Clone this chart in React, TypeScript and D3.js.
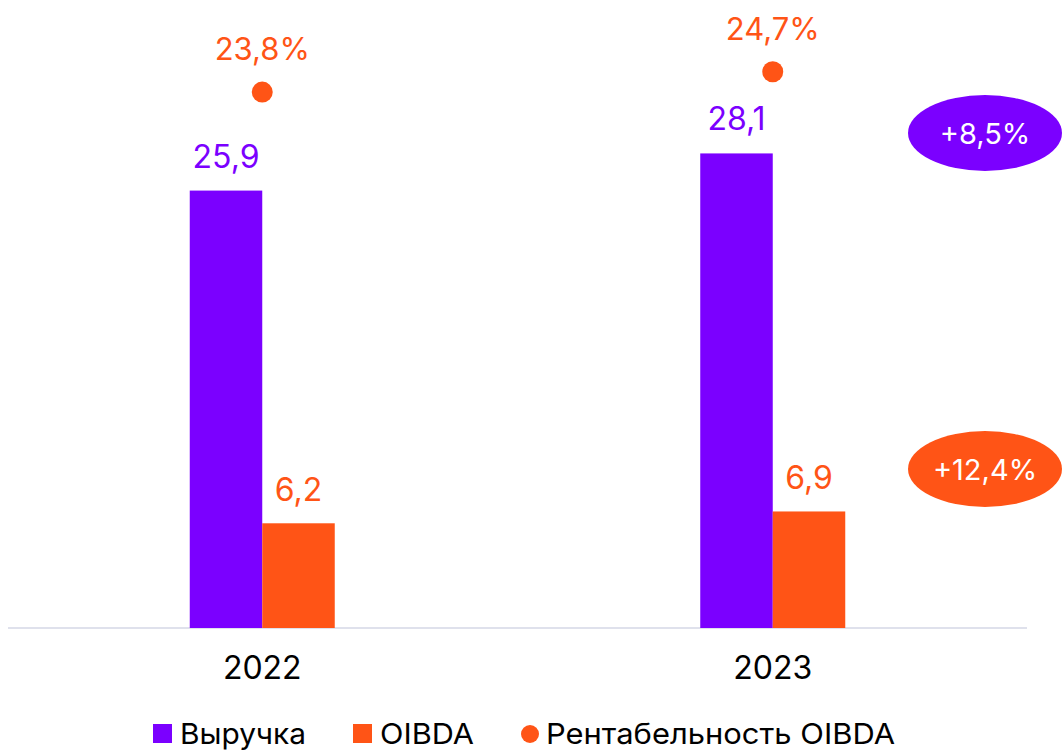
import React from "react";
import * as d3 from "d3";

const categories = ["2022", "2023"];
const revenue = [25.9, 28.1];
const oibda = [6.2, 6.9];
const margin = [23.8, 24.7];
const growthLabels = ["+8,5%", "+12,4%"];
const legendLabels = ["Выручка", "OIBDA", "Рентабельность OIBDA"];

const PURPLE = "#7b00ff";
const ORANGE = "#ff5416";
const FONT = "Inter, 'Noto Sans', sans-serif";

const W = 1063;
const H = 750;
const baseY = 628;

const locale = d3.formatLocale({ decimal: ",", thousands: " ", grouping: [3], currency: ["", ""] });
const f1 = locale.format(".1f");

export default function App() {
  const x = d3.scaleBand<string>().domain(categories).range([7, 1028]);
  const inner = d3.scaleBand<string>().domain(["rev", "oibda"]).range([0, 145]);
  const y1 = d3.scaleLinear().domain([0, 36]).range([baseY, 20]);
  const y2 = d3.scaleLinear().domain([0, 27]).range([baseY, 20]);
  const cx = (c: string) => (x(c) as number) + x.bandwidth() / 2;

  return (
    <svg width={W} height={H} style={{ position: "absolute", left: 0, top: 0, background: "#fff" }} fontFamily={FONT}>
      <line x1={8} x2={1027} y1={baseY} y2={baseY} stroke="#dfe1ec" strokeWidth={2} />
      {categories.map((c, i) => {
        const left = cx(c) - 72.5;
        const rx = left + (inner("rev") as number);
        const ox = left + (inner("oibda") as number);
        const bw = inner.bandwidth();
        return (
          <g key={c}>
            <rect x={rx} y={y1(revenue[i])} width={bw} height={baseY - y1(revenue[i])} fill={PURPLE} />
            <rect x={ox} y={y1(oibda[i])} width={bw} height={baseY - y1(oibda[i])} fill={ORANGE} />
            <text x={rx + bw / 2} y={y1(revenue[i]) - 23} textAnchor="middle" fontSize={32} fill={PURPLE}>
              {f1(revenue[i])}
            </text>
            <text x={ox + bw / 2} y={y1(oibda[i]) - 22} textAnchor="middle" fontSize={32} fill={ORANGE}>
              {f1(oibda[i])}
            </text>
            <circle cx={cx(c)} cy={y2(margin[i])} r={10.5} fill={ORANGE} />
            <text x={cx(c)} y={y2(margin[i]) - 32} textAnchor="middle" fontSize={31} fill={ORANGE}>
              {f1(margin[i]) + "%"}
            </text>
            <text x={cx(c)} y={679} textAnchor="middle" fontSize={32} fill="#000">
              {c}
            </text>
          </g>
        );
      })}
      <ellipse cx={985} cy={133} rx={77} ry={38} fill={PURPLE} />
      <text x={985} y={144} textAnchor="middle" fontSize={29} fill="#fff">{growthLabels[0]}</text>
      <ellipse cx={985} cy={469} rx={77} ry={38} fill={ORANGE} />
      <text x={985} y={480} textAnchor="middle" fontSize={29} fill="#fff">{growthLabels[1]}</text>

      <g fontSize={29} fill="#000">
        <rect x={153} y={724} width={19} height={19} fill={PURPLE} />
        <text x={180} y={744} textLength={126} lengthAdjust="spacingAndGlyphs">{legendLabels[0]}</text>
        <rect x={353} y={724} width={19} height={19} fill={ORANGE} />
        <text x={380} y={744} textLength={94} lengthAdjust="spacingAndGlyphs">{legendLabels[1]}</text>
        <circle cx={530} cy={734} r={9} fill={ORANGE} />
        <text x={546} y={744} textLength={349} lengthAdjust="spacingAndGlyphs">{legendLabels[2]}</text>
      </g>
    </svg>
  );
}
